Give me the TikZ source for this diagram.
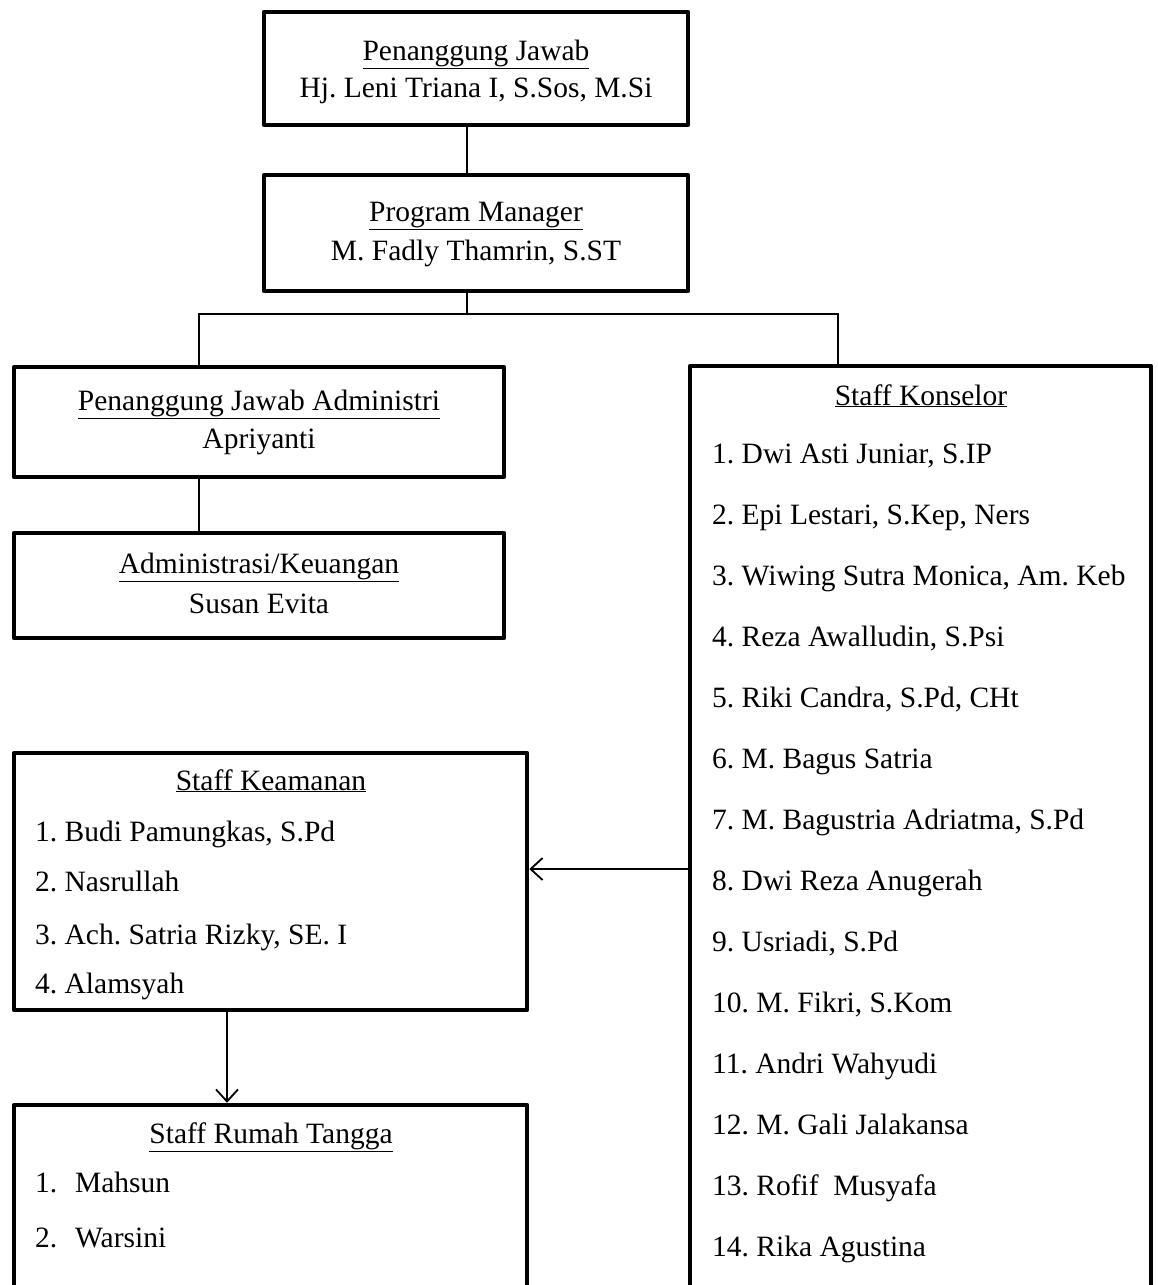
\documentclass[tikz,border=0pt]{standalone}
\usepackage{fontspec}
\setmainfont{Liberation Serif}
\usetikzlibrary{arrows.meta}
\frenchspacing
\begin{document}
\begin{tikzpicture}[x=1pt,y=-1pt,
  box/.style={draw, line width=4.5pt, line join=round, inner sep=0pt, rectangle},
  lbl/.style={inner sep=0pt, anchor=base, font=\fontsize{29.5}{35}\selectfont},
  item/.style={inner sep=0pt, anchor=base west, font=\fontsize{29.5}{35}\selectfont},
  link/.style={line width=1.8pt},
  arr/.style={line width=1.8pt, -{Straight Barb[length=12pt,width=22pt,line width=1.8pt]}}]
\useasboundingbox (0,0) rectangle (1157,1285);
\clip (0,0) rectangle (1157,1285);
% boxes
\node[box, minimum width=424pt, minimum height=113pt] (pj) at (476,68.5) {};
\node[box, minimum width=424pt, minimum height=116pt] (pm) at (476,233) {};
\node[box, minimum width=490pt, minimum height=110pt] (pja) at (259,422) {};
\node[box, minimum width=490pt, minimum height=105pt] (adm) at (259,585.5) {};
\node[box, minimum width=461pt, minimum height=934pt] (kons) at (920.5,833) {};
\node[box, minimum width=513pt, minimum height=257pt] (keam) at (270.5,881.5) {};
\node[box, minimum width=513pt, minimum height=195pt] (rt) at (270.5,1202.5) {};
% helper coordinates
\coordinate (cx) at (467,0);
\coordinate (bus) at (467,314);
\coordinate (lb) at (199,314);
\coordinate (rb) at (838,314);
\coordinate (ay) at (0,869);
\coordinate (dx) at (227,0);
% connectors
\draw[link] (pj.south -| cx) -- (pm.north -| cx);
\draw[link] (pm.south -| cx) -- (bus);
\draw[link] (pja.north -| lb) -- (lb) -- (rb) -- (kons.north -| rb);
\draw[link] (pja.south -| lb) -- (adm.north -| lb);
\draw[arr] (kons.west |- ay) -- (keam.east |- ay);
\draw[arr] (keam.south -| dx) -- (rt.north -| dx);
% texts
\node[lbl] (t1) at (476,60) {\underline{Penanggung Jawab}};
\node[lbl] (t2) at (476,97) {Hj. Leni Triana I, S.Sos, M.Si};
\node[lbl] (t3) at (476,221) {\underline{Program Manager}};
\node[lbl] (t4) at (476,260) {M. Fadly Thamrin, S.ST};
\node[lbl] (t5) at (259,410) {\underline{Penanggung Jawab Administri}};
\node[lbl] (t6) at (259,448) {Apriyanti};
\node[lbl] (t7) at (259,573) {\underline{Administrasi/Keuangan}};
\node[lbl] (t8) at (259,613) {Susan Evita};
\node[lbl] (t9) at (271,790) {\underline{Staff Keamanan}};
\node[item] (k1) at (35,841) {1. Budi Pamungkas, S.Pd};
\node[item] (k2) at (35,891) {2. Nasrullah};
\node[item] (k3) at (35,944) {3. Ach. Satria Rizky, SE. I};
\node[item] (k4) at (35,993) {4. Alamsyah};
\node[lbl] (t10) at (271,1143) {\underline{Staff Rumah Tangga}};
\node[item] (r1) at (35,1192) {\makebox[40pt][l]{1.}Mahsun};
\node[item] (r2) at (35,1247) {\makebox[40pt][l]{2.}Warsini};
\node[lbl] (t11) at (921,405) {\underline{Staff Konselor}};
\node[item] (s1) at (712,463) {1. Dwi Asti Juniar, S.IP};
\node[item] (s2) at (712,524) {2. Epi Lestari, S.Kep, Ners};
\node[item] (s3) at (712,585) {3. Wiwing Sutra Monica, Am. Keb};
\node[item] (s4) at (712,646) {4. Reza Awalludin, S.Psi};
\node[item] (s5) at (712,707) {5. Riki Candra, S.Pd, CHt};
\node[item] (s6) at (712,768) {6. M. Bagus Satria};
\node[item] (s7) at (712,829) {7. M. Bagustria Adriatma, S.Pd};
\node[item] (s8) at (712,890) {8. Dwi Reza Anugerah};
\node[item] (s9) at (712,951) {9. Usriadi, S.Pd};
\node[item] (s10) at (712,1012) {10. M. Fikri, S.Kom};
\node[item] (s11) at (712,1073) {11. Andri Wahyudi};
\node[item] (s12) at (712,1134) {12. M. Gali Jalakansa};
\node[item] (s13) at (712,1195) {13. Rofif~ Musyafa};
\node[item] (s14) at (712,1256) {14. Rika Agustina};
\end{tikzpicture}
\end{document}
